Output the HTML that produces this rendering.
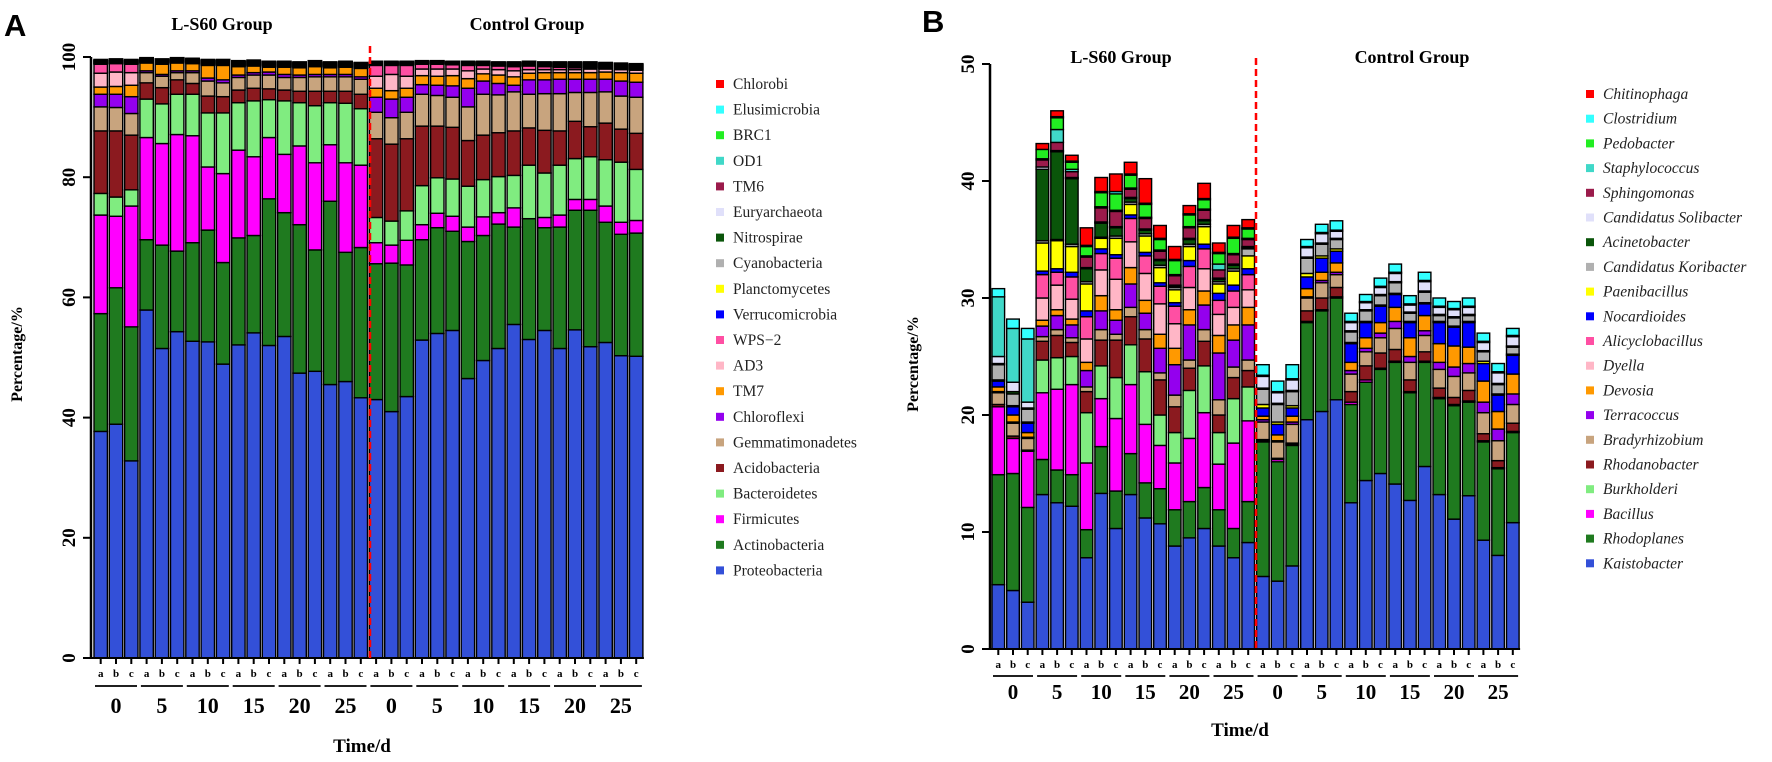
<!DOCTYPE html>
<html><head><meta charset="utf-8"><style>
html,body{margin:0;padding:0;background:#fff;}
svg{display:block;}
text{font-family:"Liberation Serif",serif;}
</style></head><body>
<svg id="fig" width="1772" height="762" viewBox="0 0 1772 762" xmlns="http://www.w3.org/2000/svg">
<text x="4" y="36" style="font-family:'Liberation Sans',sans-serif;font-weight:bold;font-size:31px">A</text>
<text x="922" y="32" style="font-family:'Liberation Sans',sans-serif;font-weight:bold;font-size:31px">B</text>
<g id="panelA"></g>
<g id="panelB"></g>
</svg>
<script>
// ---------- Panel A data (cumulative stacked percentage, bottom -> top) ----------
const timeLabels = ["0","5","10","15","20","25","0","5","10","15","20","25"];
const repLabels = ["a","b","c"];
const yTicksA = [0,20,40,60,80,100];
const yTicksB = [0,10,20,30,40,50];
const namesA = ["Proteobacteria","Actinobacteria","Firmicutes","Bacteroidetes","Acidobacteria","Gemmatimonadetes","Chloroflexi","TM7","AD3","WPS\u22122","Verrucomicrobia","Planctomycetes","Cyanobacteria","Nitrospirae","Euryarchaeota","TM6","OD1","BRC1","Elusimicrobia","Chlorobi"];
const colorsA = ["#3350d8","#1f7a1f","#ff00ff","#80ec80","#8b1a1f","#c8a47e","#9400ee","#ff9900","#ffb6c6","#ff4fa3","#0000ff","#ffff00","#b0b0b0","#0a550a","#e0e0fa","#9b1b4b","#40d8c8","#22ee22","#33ffff","#ff0000"];
const topProteobacteria=[37.7,38.9,32.8,57.9,51.5,54.3,52.7,52.6,48.9,52.1,54.1,52.0,53.5,47.4,47.7,45.5,46.0,43.3,43.0,41.0,43.5,52.9,54.0,54.5,46.5,49.5,51.5,55.5,53.0,54.5,51.5,54.6,51.8,52.5,50.3,50.2];
const topActinobacteria=[57.3,61.6,55.1,69.6,68.7,67.7,69.1,71.2,65.8,69.9,70.3,76.4,74.1,72.1,67.9,76.0,67.5,68.3,65.6,65.7,65.4,69.6,71.6,71.0,69.3,70.3,72.2,71.7,73.1,71.6,71.7,74.5,74.5,72.5,70.5,70.7];
const topFirmicutes=[73.7,73.5,75.2,86.6,85.6,87.1,86.9,81.7,80.6,84.5,83.4,86.6,83.8,85.2,82.4,85.4,82.4,82.0,69.1,68.7,69.5,72.1,74.0,73.5,71.7,73.4,74.1,74.9,73.1,73.3,73.7,76.3,76.3,75.2,72.5,72.8];
const topBacteroidetes=[77.3,76.7,77.9,93.0,92.2,93.8,93.8,90.7,90.7,92.4,92.7,92.9,92.7,92.4,91.9,92.4,92.3,91.4,73.3,72.7,74.4,78.6,79.9,79.7,78.5,79.6,80.1,80.3,82.0,80.7,82.0,83.1,83.4,82.9,82.5,81.3];
const topAcidobacteria=[87.7,87.7,87.0,95.7,94.9,96.2,95.6,93.5,93.4,94.5,94.8,94.7,94.5,94.3,94.3,94.3,94.3,93.8,86.4,85.5,86.4,88.5,88.5,88.3,86.1,87.0,87.4,87.7,88.2,87.8,87.7,89.3,88.4,89.0,88.0,87.3];
const topGemmatimonadetes=[91.7,91.6,90.6,97.4,96.8,97.4,97.4,96.0,95.7,96.6,97.0,97.0,96.6,96.6,96.7,96.7,96.7,96.3,90.8,89.9,90.8,93.8,93.6,93.3,91.7,93.8,93.7,94.2,93.8,93.9,93.9,94.1,94.1,94.2,93.5,93.3];
const topChloroflexi=[93.8,93.8,93.4,97.7,97.1,97.7,97.7,96.5,96.2,97.0,97.4,97.5,97.1,97.0,97.1,97.1,97.1,96.7,93.3,93.0,93.3,95.4,95.3,95.2,94.8,96.0,95.6,95.3,96.2,96.2,96.3,96.3,96.3,96.3,96.0,95.8];
const topTM7=[95.0,95.1,95.3,99.0,98.8,99.0,98.9,98.6,98.6,98.4,98.5,98.3,98.3,98.2,98.4,98.2,98.3,98.1,94.8,94.4,94.8,96.9,96.8,96.9,96.4,97.2,97.0,96.7,97.3,97.4,97.4,97.4,97.4,97.5,97.4,97.3];
const topAD3=[97.3,97.5,97.4,99.1,98.9,99.1,99.0,98.7,98.7,98.5,98.6,98.4,98.4,98.3,98.5,98.3,98.4,98.2,96.8,97.1,96.8,98.0,98.0,98.0,97.7,98.0,97.9,97.7,97.9,97.9,97.9,97.9,98.0,98.0,97.9,97.8];
const topWPS2=[98.8,98.9,98.8,99.2,99.0,99.2,99.1,98.8,98.8,98.6,98.7,98.5,98.5,98.4,98.6,98.4,98.5,98.3,98.6,98.6,98.6,98.8,98.8,98.7,98.6,98.6,98.5,98.4,98.5,98.4,98.3,98.2,98.2,98.1,98.0,97.9];
// minor phyla: small per-sample shares (not cumulative)
const minorShareA=[0.08,0.08,0.08,0.07,0.07,0.07,0.07,0.08,0.08,0.08,0.08,0.08,0.08,0.08,0.08,0.08,0.08,0.08,0.07,0.07,0.07,0.06,0.06,0.06,0.07,0.07,0.07,0.08,0.08,0.08,0.09,0.1,0.1,0.1,0.1,0.1];

// ---------- Panel B data (cumulative stacked percentage, bottom -> top) ----------
const namesB = ["Kaistobacter","Rhodoplanes","Bacillus","Burkholderi","Rhodanobacter","Bradyrhizobium","Terracoccus","Devosia","Dyella","Alicyclobacillus","Nocardioides","Paenibacillus","Candidatus Koribacter","Acinetobacter","Candidatus Solibacter","Sphingomonas","Staphylococcus","Pedobacter","Clostridium","Chitinophaga"];
const colorsB = ["#3350d8","#1f7a1f","#ff00ff","#80ec80","#8b1a1f","#c8a47e","#9400ee","#ff9900","#ffb6c6","#ff4fa3","#0000ff","#ffff00","#b0b0b0","#0a550a","#e0e0fa","#9b1b4b","#40d8c8","#22ee22","#33ffff","#ff0000"];
const topKaistobacter=[5.5,5.0,4.0,13.2,12.5,12.2,7.8,13.3,10.3,13.2,11.2,10.7,8.8,9.5,10.3,8.8,7.8,9.1,6.2,5.8,7.1,19.6,20.3,21.3,12.5,14.4,15.0,14.1,12.7,15.6,13.2,11.1,13.1,9.3,8.0,10.8];
const topRhodoplanes=[14.9,15.0,12.1,16.2,15.3,14.9,10.2,17.3,13.5,16.7,14.2,13.7,11.9,12.6,13.8,11.9,10.3,12.6,17.7,16.0,17.4,27.9,28.9,30.0,20.9,22.8,23.9,24.5,21.9,24.5,21.4,20.8,21.1,17.7,15.4,18.5];
const topBacillus=[20.7,18.0,16.9,21.9,22.2,22.6,15.9,21.4,19.7,22.6,19.2,17.4,15.9,18.0,20.2,15.8,17.6,19.5,17.8,16.2,17.5,28.0,29.0,30.1,21.1,23.0,24.0,24.6,22.0,24.6,21.5,20.9,21.2,17.8,15.5,18.6];
const topBurkholderi=[20.7,18.0,16.9,24.7,24.9,25.0,20.2,24.2,23.2,26.0,23.7,20.0,18.5,22.1,24.2,18.5,21.4,22.4,17.8,16.2,17.5,28.0,29.0,30.1,21.1,23.0,24.0,24.6,22.0,24.6,21.5,20.9,21.2,17.8,15.5,18.6];
const topRhodanobacter=[20.9,18.2,17.0,26.3,26.8,26.2,22.0,26.4,26.4,28.4,26.5,23.0,20.7,24.0,26.3,20.0,23.2,23.8,17.9,16.3,17.6,28.9,30.0,30.9,22.0,24.2,25.3,25.6,23.0,25.4,22.3,21.5,22.1,18.4,16.1,19.3];
const topBradyrhizobium=[21.9,19.3,18.0,26.7,27.3,26.6,22.4,27.3,26.9,29.2,27.3,23.6,21.7,24.7,27.3,21.3,24.1,24.7,19.4,17.7,19.2,30.0,31.3,32.0,23.5,25.4,26.6,27.4,24.5,26.8,23.9,23.3,23.6,20.2,17.8,20.9];
const topTerracoccus=[22.0,19.4,18.1,27.6,28.5,27.7,23.8,28.9,28.1,31.2,28.7,25.7,24.3,27.7,29.4,25.3,26.4,27.7,19.6,17.8,19.4,30.1,31.5,32.2,23.8,25.7,27.0,28.0,25.0,27.2,24.5,24.1,24.4,21.1,18.8,21.8];
const topDevosia=[22.4,20.0,18.5,28.1,29.0,28.2,24.5,30.2,29.0,32.6,29.8,26.9,25.7,29.0,30.6,26.8,27.7,29.2,19.9,18.3,19.9,30.8,32.2,33.0,24.5,26.6,27.9,29.2,26.6,28.5,26.1,25.9,25.8,22.9,20.3,23.5];
const topDyella=[22.4,20.0,18.5,30.0,31.1,29.9,26.5,32.4,31.6,34.8,32.1,29.5,27.8,30.9,32.5,28.6,29.2,30.7,19.9,18.3,19.9,30.8,32.2,33.0,24.5,26.6,27.9,29.2,26.6,28.5,26.1,25.9,25.8,22.9,20.3,23.5];
const topAlicyclobacillus=[22.4,20.0,18.5,32.0,32.2,31.8,28.4,33.8,33.4,36.8,33.6,31.0,29.3,32.7,34.2,29.8,30.6,32.0,19.9,18.3,19.9,30.8,32.2,33.0,24.5,26.6,27.9,29.2,26.6,28.5,26.1,25.9,25.8,22.9,20.3,23.5];
const topNocardioides=[22.9,20.7,19.3,32.3,32.5,32.2,28.9,34.2,33.7,37.1,33.9,31.3,29.6,33.2,34.6,30.4,31.1,32.5,20.6,19.2,20.6,31.8,33.4,34.0,26.1,27.9,29.3,30.3,27.9,29.5,27.9,27.5,27.9,24.4,21.7,25.1];
const topPaenibacillus=[23.0,20.8,19.4,34.7,34.9,34.4,31.2,35.1,35.1,38.0,35.3,32.6,30.7,34.4,36.1,31.2,32.3,33.6,20.9,19.4,20.8,32.1,33.6,34.2,26.2,28.0,29.4,30.4,28.0,29.6,28.0,27.6,28.0,24.6,21.8,25.2];
const topKoribacter=[24.3,21.8,20.5,34.9,35.0,34.6,31.4,35.2,35.3,38.2,35.5,32.8,30.9,34.6,36.3,31.4,32.5,34.2,22.2,20.9,22.0,33.4,34.6,35.0,27.1,28.9,30.2,31.3,28.7,30.5,28.5,28.3,28.5,25.4,22.6,25.8];
const topAcinetobacter=[24.4,22.0,20.6,41.0,42.5,40.2,32.5,36.4,36.0,38.5,35.8,33.2,31.0,35.0,36.6,31.6,32.8,34.3,22.3,21.0,22.1,33.5,34.7,35.1,27.2,29.0,30.3,31.4,28.8,30.6,28.6,28.4,28.6,25.5,22.7,25.9];
const topSolibacter=[25.0,22.8,21.1,41.2,42.6,40.3,32.6,36.5,36.1,38.6,35.9,33.3,31.1,35.1,36.7,31.7,32.9,34.4,23.3,21.9,23.0,34.3,35.5,35.7,27.9,29.6,30.9,32.1,29.4,31.4,29.2,29.0,29.2,26.2,23.6,26.7];
const topSphingomonas=[25.0,22.8,21.1,41.8,43.3,40.8,33.5,37.7,37.4,39.3,36.8,34.0,31.9,36.0,37.5,32.4,33.7,35.0,23.4,22.0,23.1,34.4,35.6,35.8,28.0,29.7,31.0,32.2,29.5,31.5,29.3,29.1,29.3,26.3,23.7,26.8];
const topStaphylococcus=[30.1,27.4,26.5,41.9,44.4,41.0,33.6,37.8,37.5,39.4,36.9,34.1,32.0,36.1,37.6,32.9,33.8,35.1,23.4,22.0,23.1,34.4,35.6,35.8,28.0,29.7,31.0,32.2,29.5,31.5,29.3,29.1,29.3,26.3,23.7,26.8];
const topPedobacter=[30.1,27.4,26.5,42.7,45.4,41.6,34.4,39.0,38.9,40.5,38.0,35.0,33.2,37.1,38.4,33.8,35.1,35.9,23.4,22.0,23.1,34.4,35.6,35.8,28.0,29.7,31.0,32.2,29.5,31.5,29.3,29.1,29.3,26.3,23.7,26.8];
const topClostridium=[30.8,28.2,27.4,42.7,45.5,41.7,34.5,39.1,39.1,40.6,38.1,35.1,33.3,37.2,38.5,33.9,35.2,36.0,24.3,22.9,24.3,35.0,36.3,36.6,28.7,30.3,31.7,32.9,30.2,32.2,30.0,29.7,30.0,27.0,24.4,27.4];
const topChitinophaga=[30.8,28.2,27.4,43.2,46.0,42.2,36.0,40.3,40.6,41.6,40.2,36.2,34.4,37.9,39.8,34.7,36.2,36.7,24.3,22.9,24.3,35.0,36.3,36.6,28.7,30.3,31.7,32.9,30.2,32.2,30.0,29.7,30.0,27.0,24.4,27.4];

const NS="http://www.w3.org/2000/svg";
function mk(tag,attrs,parent){const e=document.createElementNS(NS,tag);for(const k in attrs)e.setAttribute(k,attrs[k]);parent.appendChild(e);return e;}

function drawPanel(g,cfg){
  const yS=v=>cfg.y0-(v/cfg.yMax)*(cfg.y0-cfg.yTop);
  const xS=i=>cfg.x0+cfg.start+i*cfg.pitch;
  // bars
  for(let i=0;i<36;i++){
    let prev=0;
    for(let s=0;s<cfg.tops.length;s++){
      const t=cfg.tops[s][i];
      if(t-prev>0.001){
        const r=mk('rect',{x:xS(i),y:yS(t),width:cfg.bw,height:yS(prev)-yS(t),fill:cfg.colors[s],stroke:'#000','stroke-width':1.4},g);
        
        
      }
      prev=Math.max(prev,t);
    }
  }
  // axes
  const ya=mk('line',{x1:cfg.x0,y1:cfg.yTop,x2:cfg.x0,y2:cfg.y0,stroke:'#000','stroke-width':2.5},g);
  
  
  const xa=mk('line',{x1:cfg.x0,y1:cfg.y0,x2:xS(35)+cfg.bw+1,y2:cfg.y0,stroke:'#000','stroke-width':2},g);
  
  
  cfg.yTicks.forEach(v=>{
    mk('line',{x1:cfg.x0-8,y1:yS(v),x2:cfg.x0,y2:yS(v),stroke:'#000','stroke-width':2},g);
    const t=mk('text',{x:0,y:0,transform:`translate(${cfg.x0-16},${yS(v)}) rotate(-90)`,'text-anchor':'middle','font-size':19,'font-weight':'bold'},g);
    t.textContent=v;
    
    
  });
  // x ticks and labels
  for(let i=0;i<36;i++){
    const cx=xS(i)+cfg.bw/2;
    mk('line',{x1:cx,y1:cfg.y0,x2:cx,y2:cfg.y0+6,stroke:'#000','stroke-width':2},g);
    const t=mk('text',{x:cx,y:cfg.y0+19,'text-anchor':'middle','font-size':11,'font-weight':'bold'},g);
    t.textContent=repLabels[i%3];
    
    
  }
  for(let k=0;k<12;k++){
    const a=xS(3*k)+1, b=xS(3*k+2)+cfg.bw-1;
    mk('line',{x1:a,y1:cfg.y0+cfg.ulOff,x2:b,y2:cfg.y0+cfg.ulOff,stroke:'#000','stroke-width':1.8},g);
    const t=mk('text',{x:(a+b)/2,y:cfg.y0+cfg.numOff,'text-anchor':'middle','font-size':cfg.numSize,'font-weight':'bold'},g);
    t.textContent=timeLabels[k];
    
    
  }
  // divider
  const d=mk('line',{x1:cfg.divX,y1:cfg.divTop,x2:cfg.divX,y2:cfg.y0,stroke:'#ff0000','stroke-width':2.5,'stroke-dasharray':'7,4'},g);
  
  
  // titles
  const tt=[['L-S60 Group',cfg.g1x,'group-title-ls60'],['Control Group',cfg.g2x,'group-title-control']];
  tt.forEach(([s,x,n])=>{const t=mk('text',{x:x,y:cfg.gy,'text-anchor':'middle','font-size':18,'font-weight':'bold'},g);t.textContent=s;});
  const xt=mk('text',{x:cfg.xtX,y:cfg.xtY,'text-anchor':'middle','font-size':19,'font-weight':'bold'},g);
  xt.textContent='Time/d';
  
  
  const yt=mk('text',{x:0,y:0,transform:`translate(${cfg.ytX},${cfg.ytY}) rotate(-90)`,'text-anchor':'middle','font-size':16,'font-weight':'bold'},g);
  yt.textContent='Percentage/%';
  
  
  // legend (top item = last series)
  for(let s=cfg.names.length-1,j=0;s>=0;s--,j++){
    const y=cfg.legY+j*cfg.legStep;
    const sq=mk('rect',{x:cfg.legX,y:y-4,width:8,height:8,fill:cfg.colors[s]},g);
    
    
    const t=mk('text',{x:cfg.legX+17,y:y+5,'font-size':15.5,fill:'#222','font-style':cfg.italic?'italic':'normal'},g);
    t.textContent=cfg.names[s];
    
    
  }
}

// build cumulative list for A, including minor phyla
const majorTopsA=[topProteobacteria,topActinobacteria,topFirmicutes,topBacteroidetes,topAcidobacteria,topGemmatimonadetes,topChloroflexi,topTM7,topAD3,topWPS2];
const topsA=majorTopsA.slice();
for(let m=0;m<10;m++){const prev=topsA[topsA.length-1];topsA.push(prev.map((v,i)=>v+minorShareA[i]));}

drawPanel(document.getElementById('panelA'),{
  tops:topsA,names:namesA,colors:colorsA,yMax:100,yTicks:yTicksA,
  x0:91,y0:658,yTop:57,start:3,pitch:15.3,bw:13.4,
  ulOff:28,numOff:55,numSize:22,divX:370,divTop:46,
  g1x:222,g2x:527,gy:30,xtX:362,xtY:752,ytX:22,ytY:354,
  legX:716,legY:84,legStep:25.6,italic:false
});
drawPanel(document.getElementById('panelB'),{
  tops:[topKaistobacter,topRhodoplanes,topBacillus,topBurkholderi,topRhodanobacter,topBradyrhizobium,topTerracoccus,topDevosia,topDyella,topAlicyclobacillus,topNocardioides,topPaenibacillus,topKoribacter,topAcinetobacter,topSolibacter,topSphingomonas,topStaphylococcus,topPedobacter,topClostridium,topChitinophaga],
  names:namesB,colors:colorsB,yMax:50,yTicks:yTicksB,
  x0:990,y0:649,yTop:64,start:2,pitch:14.7,bw:12.6,
  ulOff:27,numOff:50,numSize:21,divX:1256,divTop:58,
  g1x:1121,g2x:1412,gy:63,xtX:1240,xtY:736,ytX:918,ytY:364,
  legX:1586,legY:94,legStep:24.7,italic:true
});
</script>
</body></html>
